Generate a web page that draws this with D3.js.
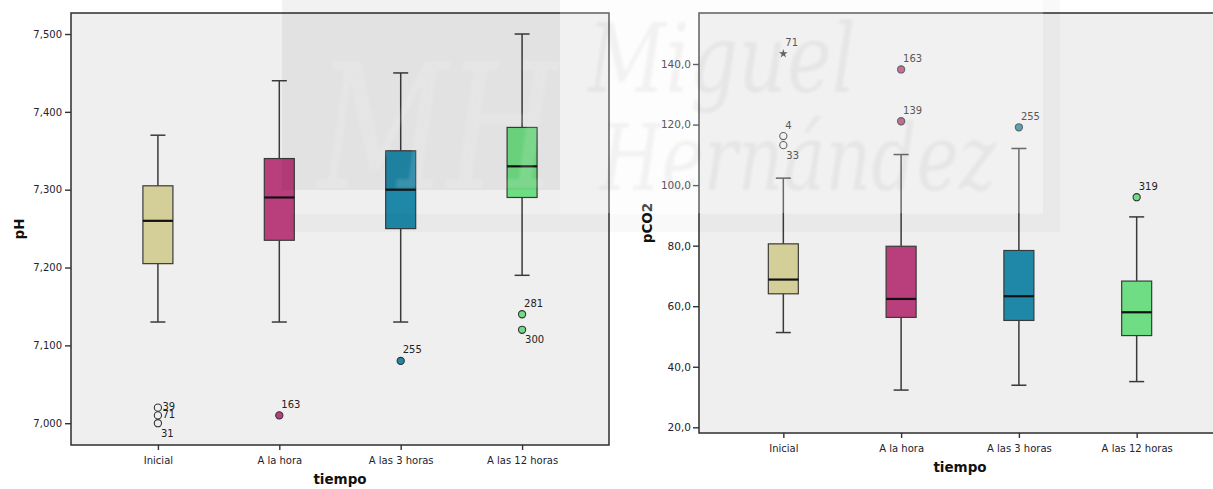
<!DOCTYPE html>
<html>
<head>
<meta charset="utf-8">
<script src="https://cdn.jsdelivr.net/npm/d3@7"></script>
<style>
  body { margin: 0; background: #fff; overflow: hidden; }
  svg text { font-family: "DejaVu Sans", sans-serif; }
</style>
</head>
<body>
<script>
var categories = ["Inicial", "A la hora", "A las 3 horas", "A las 12 horas"];

// pH boxes (whisker low, Q1, median, Q3, whisker high)
var phLow = [7.130, 7.130, 7.130, 7.190];
var phQ1 = [7.205, 7.235, 7.250, 7.290];
var phMedian = [7.260, 7.290, 7.300, 7.330];
var phQ3 = [7.305, 7.340, 7.350, 7.380];
var phHigh = [7.370, 7.440, 7.450, 7.500];
// [category, value, case id, kind]  kind: o = outlier, * = extreme
var phOutliers = [
  ["Inicial", 7.020, "39", "o"],
  ["Inicial", 7.010, "71", "o"],
  ["Inicial", 7.000, "31", "o"],
  ["A la hora", 7.010, "163", "o"],
  ["A las 3 horas", 7.080, "255", "o"],
  ["A las 12 horas", 7.140, "281", "o"],
  ["A las 12 horas", 7.120, "300", "o"]
];
var phTicks = [7.0, 7.1, 7.2, 7.3, 7.4, 7.5];

// pCO2 boxes
var pco2Low = [51.3, 32.3, 33.9, 35.1];
var pco2Q1 = [64.1, 56.3, 55.3, 50.3];
var pco2Median = [68.8, 62.4, 63.3, 58.0];
var pco2Q3 = [80.6, 79.8, 78.4, 68.3];
var pco2High = [102.3, 110.1, 112.1, 89.5];
var pco2Outliers = [
  ["Inicial", 143.4, "71", "*"],
  ["Inicial", 116.2, "4", "o"],
  ["Inicial", 113.2, "33", "o"],
  ["A la hora", 138.2, "163", "o"],
  ["A la hora", 121.1, "139", "o"],
  ["A las 3 horas", 119.1, "255", "o"],
  ["A las 12 horas", 96.0, "319", "o"]
];
var pco2Ticks = [20, 40, 60, 80, 100, 120, 140];

var boxColors = ["#d4cf98", "#b93e7c", "#1f88a8", "#6fdd83"];
var comma = d3.formatLocale({ decimal: ",", thousands: ".", grouping: [3], currency: ["", "€"] });

var svg = d3.select("body").append("svg")
  .attr("width", 1213)
  .attr("height", 489);

// soft edges for the watermark
svg.append("defs").append("filter")
  .attr("id", "soft")
  .append("feGaussianBlur")
  .attr("stdDeviation", 1.6);

function drawPanel(o) {
  var g = svg.append("g");

  var x = d3.scalePoint()
    .domain(categories)
    .range([o.x0, o.x1])
    .padding(0.716);
  var y = d3.scaleLinear()
    .domain(o.domain)
    .range([o.y1, o.y0]);

  // plot background
  g.append("rect")
    .attr("x", o.x0).attr("y", o.y0)
    .attr("width", o.x1 - o.x0).attr("height", o.y1 - o.y0)
    .attr("fill", "#efefef");

  // axes
  var yAxis = g.append("g")
    .attr("transform", "translate(" + o.x0 + ",0)")
    .call(d3.axisLeft(y).tickValues(o.ticks).tickFormat(comma.format(o.fmt))
      .tickSize(6).tickSizeOuter(0).tickPadding(o.tickPad));
  var xAxis = g.append("g")
    .attr("transform", "translate(0," + o.y1 + ")")
    .call(d3.axisBottom(x).tickSize(5).tickSizeOuter(0).tickPadding(7));
  [xAxis, yAxis].forEach(function(a) {
    a.select(".domain").remove();
    a.selectAll(".tick line").attr("stroke", "#333").attr("stroke-width", 1.4);
    a.selectAll(".tick text").attr("fill", "#22222e")
      .style("font-family", "'DejaVu Sans', sans-serif");
  });
  xAxis.selectAll(".tick text").style("font-size", "10px");
  yAxis.selectAll(".tick text").style("font-size", o.yFont);

  // frame
  g.append("rect")
    .attr("x", o.x0).attr("y", o.y0)
    .attr("width", o.x1 - o.x0).attr("height", o.y1 - o.y0)
    .attr("fill", "none")
    .attr("stroke", "#2e2e2e")
    .attr("stroke-width", 1.5);

  // boxes
  var half = 15, cap = 7.5;
  categories.forEach(function(c, i) {
    var cx = x(c);
    var b = g.append("g");
    b.append("line")
      .attr("x1", cx).attr("x2", cx)
      .attr("y1", y(o.high[i])).attr("y2", y(o.q3[i]));
    b.append("line")
      .attr("x1", cx).attr("x2", cx)
      .attr("y1", y(o.q1[i])).attr("y2", y(o.low[i]));
    b.append("line")
      .attr("x1", cx - cap).attr("x2", cx + cap)
      .attr("y1", y(o.high[i])).attr("y2", y(o.high[i]));
    b.append("line")
      .attr("x1", cx - cap).attr("x2", cx + cap)
      .attr("y1", y(o.low[i])).attr("y2", y(o.low[i]));
    b.selectAll("line").attr("stroke", "#3a3a3a").attr("stroke-width", 1.5);
    b.append("rect")
      .attr("x", cx - half).attr("width", half * 2)
      .attr("y", y(o.q3[i])).attr("height", y(o.q1[i]) - y(o.q3[i]))
      .attr("fill", boxColors[i])
      .attr("stroke", "#3a3a3a")
      .attr("stroke-width", 1.2);
    b.append("line")
      .attr("x1", cx - half).attr("x2", cx + half)
      .attr("y1", y(o.median[i])).attr("y2", y(o.median[i]))
      .attr("stroke", "#111")
      .attr("stroke-width", 2.2);
  });

  // outliers + case labels
  o.outliers.forEach(function(d) {
    var i = categories.indexOf(d[0]);
    var px = x(d[0]), py = y(d[1]);
    if (d[3] == "*") {
      g.append("path")
        .attr("d", d3.symbol().type(d3.symbolStar).size(24)())
        .attr("transform", "translate(" + px + "," + py + ")")
        .attr("fill", "#333");
    } else {
      g.append("circle")
        .attr("cx", px).attr("cy", py).attr("r", 3.6)
        .attr("fill", i == 0 ? "none" : boxColors[i])
        .attr("stroke", "#333")
        .attr("stroke-width", 1.1);
    }
    var side = o.labelSide[d[2]] || "up";
    var dx = 2, dy = -11;
    if (side == "down") { dx = 3; dy = 10; }
    if (side == "right") { dx = 4.5; dy = -1; }
    g.append("text")
      .attr("x", px + dx).attr("y", py + dy)
      .attr("dominant-baseline", "central")
      .style("font-size", "10px")
      .attr("fill", "#222")
      .text(d[2]);
  });

  // axis titles
  g.append("text")
    .attr("transform", "translate(" + o.titleX + "," + ((o.y0 + o.y1) / 2) + ") rotate(-90)")
    .attr("text-anchor", "middle")
    .attr("dominant-baseline", "central")
    .style("font-size", "13.5px")
    .style("font-weight", "bold")
    .attr("fill", "#111")
    .text(o.title);
  g.append("text")
    .attr("x", (o.x0 + o.x1) / 2)
    .attr("y", o.y1 + o.xTitleGap)
    .attr("text-anchor", "middle")
    .style("font-size", "13.5px")
    .style("font-weight", "bold")
    .attr("fill", "#111")
    .text("tiempo");
}

drawPanel({
  x0: 71, x1: 609, y0: 13, y1: 445,
  domain: [6.972, 7.527],
  ticks: phTicks, fmt: ".3f", tickPad: 3, yFont: "10px",
  low: phLow, q1: phQ1, median: phMedian, q3: phQ3, high: phHigh,
  outliers: phOutliers,
  labelSide: { "39": "right", "71": "right", "31": "down", "300": "down" },
  title: "pH", titleX: 19, xTitleGap: 39
});

drawPanel({
  x0: 699, x1: 1221, y0: 13, y1: 433,
  domain: [18.12, 156.85],
  ticks: pco2Ticks, fmt: ".1f", tickPad: 2, yFont: "10.5px",
  low: pco2Low, q1: pco2Q1, median: pco2Median, q3: pco2Q3, high: pco2High,
  outliers: pco2Outliers,
  labelSide: { "33": "down" },
  title: "pCO2", titleX: 647, xTitleGap: 39
});

// faint "Miguel Hernández" watermark laid over the picture
var wm = svg.append("g").style("pointer-events", "none");
wm.append("rect")
  .attr("x", 282).attr("y", 0).attr("width", 278).attr("height", 190)
  .attr("fill", "#000").attr("opacity", 0.05);
wm.append("text")
  .attr("x", 318).attr("y", 188)
  .attr("filter", "url(#soft)")
  .style("font-family", "'DejaVu Serif', serif")
  .style("font-style", "italic")
  .style("font-size", "175px")
  .attr("textLength", 240)
  .attr("lengthAdjust", "spacingAndGlyphs")
  .attr("fill", "#fff").attr("opacity", 0.13)
  .text("MH");
wm.append("rect")
  .attr("x", 560).attr("y", 0).attr("width", 483).attr("height", 213)
  .attr("fill", "#f6f6f6").attr("opacity", 0.25);
wm.append("rect")
  .attr("x", 290).attr("y", 214).attr("width", 770).attr("height", 18)
  .attr("fill", "#000").attr("opacity", 0.025);
wm.append("rect")
  .attr("x", 1043).attr("y", 0).attr("width", 17).attr("height", 214)
  .attr("fill", "#000").attr("opacity", 0.025);
wm.append("text")
  .attr("x", 588).attr("y", 92)
  .attr("filter", "url(#soft)")
  .style("font-family", "'DejaVu Serif', serif")
  .style("font-style", "italic")
  .style("font-size", "96px")
  .attr("textLength", 268)
  .attr("lengthAdjust", "spacingAndGlyphs")
  .attr("fill", "#000").attr("opacity", 0.045)
  .text("Miguel");
wm.append("text")
  .attr("x", 600).attr("y", 190)
  .attr("filter", "url(#soft)")
  .style("font-family", "'DejaVu Serif', serif")
  .style("font-style", "italic")
  .style("font-size", "92px")
  .attr("textLength", 396)
  .attr("lengthAdjust", "spacingAndGlyphs")
  .attr("fill", "#000").attr("opacity", 0.045)
  .text("Hernández");
</script>
</body>
</html>
